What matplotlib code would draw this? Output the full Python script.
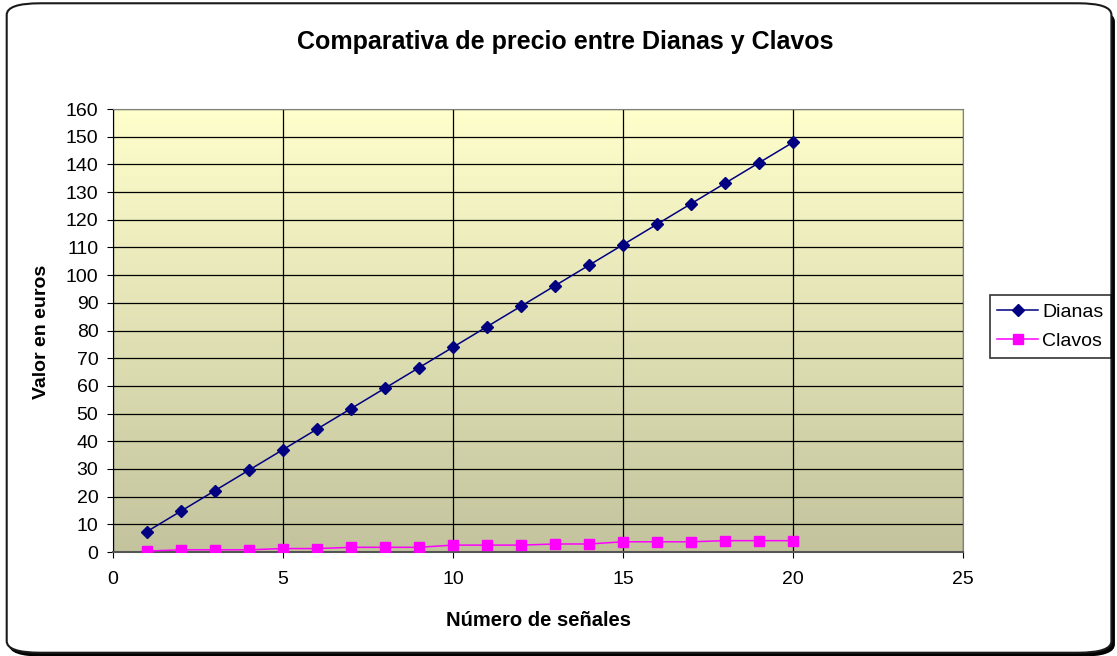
import numpy as np
import matplotlib.pyplot as plt
from matplotlib.patches import FancyBboxPatch
from matplotlib.colors import LinearSegmentedColormap

plt.rcParams['font.family'] = ['Liberation Sans', 'DejaVu Sans']

senales = [1, 2, 3, 4, 5, 6, 7, 8, 9, 10, 11, 12, 13, 14, 15, 16, 17, 18, 19, 20]
dianas = [7.4, 14.8, 22.2, 29.6, 37.0, 44.4, 51.8, 59.2, 66.6, 74.0,
          81.4, 88.8, 96.2, 103.6, 111.0, 118.4, 125.8, 133.2, 140.6, 148.0]
clavos = [0.35, 0.8, 0.8, 0.8, 1.25, 1.25, 1.7, 1.7, 1.7, 2.5,
          2.5, 2.5, 2.9, 2.9, 3.7, 3.7, 3.7, 4.1, 4.1, 4.1]

fig = plt.figure(figsize=(11.17, 6.56), dpi=100)

# marco redondeado del grafico con sombra
sombra = FancyBboxPatch((0.0085, 0.0), 0.989, 0.985, boxstyle="round,pad=0,rounding_size=0.03",
                        transform=fig.transFigure, facecolor='black', edgecolor='black',
                        mutation_aspect=656 / 1117, zorder=0)
marco = FancyBboxPatch((0.006, 0.005), 0.989, 0.99, boxstyle="round,pad=0,rounding_size=0.03",
                       transform=fig.transFigure, facecolor='white', edgecolor='#1a1a1a',
                       linewidth=1.5, mutation_aspect=656 / 1117, zorder=1)
fig.patches.extend([sombra, marco])

ax = fig.add_axes([0.1012, 0.1585, 0.761, 0.6753])
ax.set_zorder(2)

# fondo degradado amarillo -> oliva
cmap = LinearSegmentedColormap.from_list('fondo', ['#C3C39E', '#FFFFCC'])
grad = np.linspace(0, 1, 256).reshape(-1, 1)
ax.imshow(grad, cmap=cmap, aspect='auto', extent=[0, 1, 0, 1],
          transform=ax.transAxes, origin='lower', zorder=0)

ax.set_xlim(0, 25)
ax.set_ylim(0, 160)
ax.set_xticks(range(0, 26, 5))
ax.set_yticks(range(0, 161, 10))
ax.grid(True, color='black', linewidth=0.9, zorder=1)
ax.set_axisbelow(True)

ax.plot(senales, dianas, color='#000080', marker='D', markersize=6, linewidth=1.1,
        label='Dianas', zorder=3)
ax.plot(senales, clavos, color='#FF00FF', marker='s', markersize=6.5, linewidth=1.1,
        label='Clavos', zorder=3)

for lado in ['top', 'right']:
    ax.spines[lado].set_color('#808080')
ax.spines['left'].set_color('black')
ax.spines['bottom'].set_color('#555555')
ax.spines['bottom'].set_linewidth(1.5)
ax.tick_params(direction='out', length=4.5, labelsize=14, colors='black')
ax.tick_params(axis='x', pad=9)
ax.tick_params(axis='y', pad=6)

fig.text(0.482, 1 - 620 / 656, 'Número de señales', ha='center', va='center',
         fontsize=14.5, fontweight='bold')
fig.text(0.0376, 1 - 332 / 656, 'Valor en euros', ha='center', va='center',
         rotation=90, fontsize=14, fontweight='bold')
fig.text(0.506, 1 - 42 / 656, 'Comparativa de precio entre Dianas y Clavos', ha='center',
         va='center', fontsize=18, fontweight='bold')

leg = fig.legend(loc='center left', bbox_to_anchor=(0.886, 0.502), fontsize=14,
                 fancybox=False, frameon=True, handlelength=2.1, borderpad=0.4,
                 borderaxespad=0, labelspacing=0.6, handletextpad=0.2)
leg.get_frame().set_edgecolor('black')
leg.get_frame().set_linewidth(1.2)
leg.set_zorder(3)

fig.savefig('out.png', dpi=100)
